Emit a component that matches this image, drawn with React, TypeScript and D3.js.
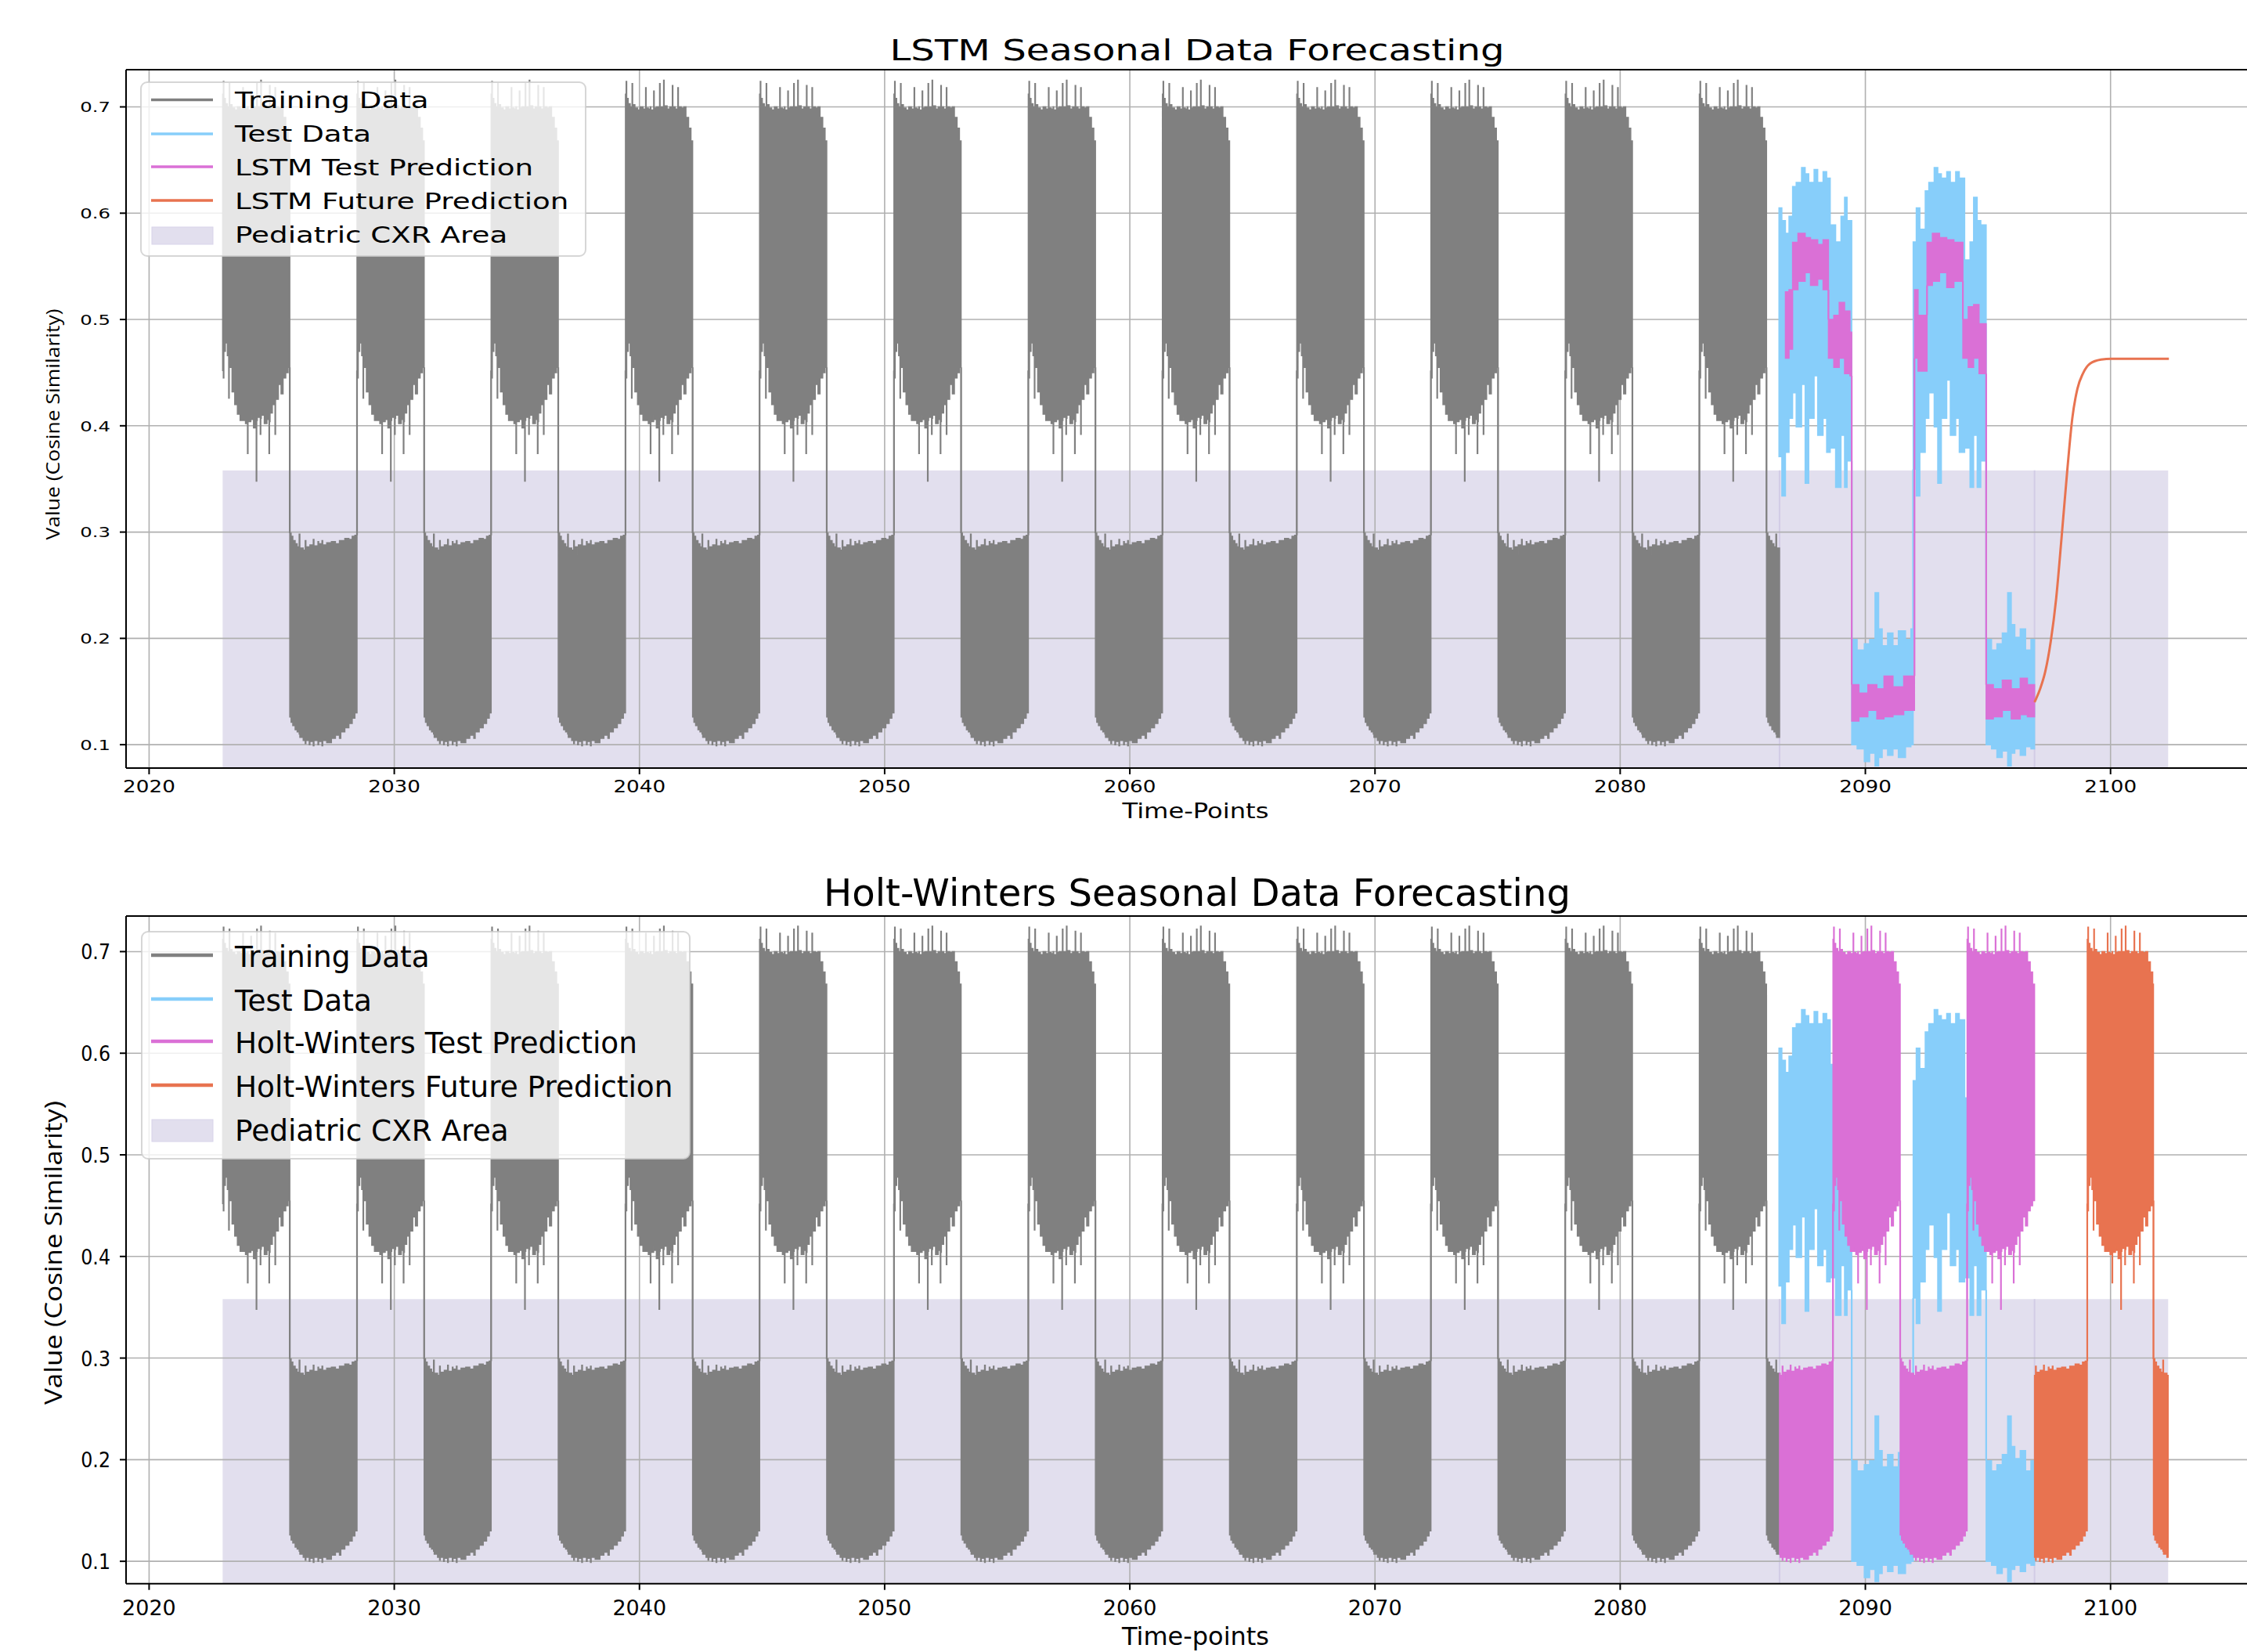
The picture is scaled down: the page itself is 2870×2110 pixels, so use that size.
import React from 'react';
import * as d3 from 'd3';

// ---------------- data ----------------
const X_TICKS = [2020, 2030, 2040, 2050, 2060, 2070, 2080, 2090, 2100];
const Y_TICKS = [0.1, 0.2, 0.3, 0.4, 0.5, 0.6, 0.7];
const X_LIMITS = [2019.06, 2106.3];
const Y_LIMITS = [0.078, 0.735];

// envelope of one "high" season of the training signal (fraction of block, upper, lower)
const HIGH_F = [0.0, 0.01, 0.018, 0.04, 0.07, 0.09, 0.098, 0.106, 0.14, 0.18, 0.22, 0.26, 0.3, 0.308, 0.34, 0.37, 0.378, 0.42, 0.428, 0.46, 0.5, 0.508, 0.516, 0.56, 0.568, 0.576, 0.62, 0.66, 0.69, 0.698, 0.706, 0.74, 0.78, 0.788, 0.83, 0.87, 0.9, 0.94, 0.975];
const HIGH_UP = [0.712, 0.724, 0.708, 0.703, 0.7, 0.7, 0.722, 0.702, 0.699, 0.697, 0.7, 0.698, 0.718, 0.699, 0.698, 0.7, 0.697, 0.715, 0.699, 0.7, 0.697, 0.722, 0.7, 0.699, 0.725, 0.701, 0.698, 0.7, 0.699, 0.72, 0.7, 0.698, 0.718, 0.7, 0.699, 0.7, 0.69, 0.68, 0.668];
const HIGH_LO = [0.452, 0.445, 0.47, 0.478, 0.466, 0.426, 0.46, 0.455, 0.432, 0.42, 0.411, 0.405, 0.408, 0.405, 0.402, 0.374, 0.404, 0.41, 0.406, 0.398, 0.348, 0.405, 0.408, 0.392, 0.407, 0.41, 0.402, 0.406, 0.374, 0.404, 0.412, 0.42, 0.392, 0.425, 0.439, 0.43, 0.445, 0.45, 0.455];
// envelope of one "low" season of the training signal
const LOW_F = [0.0, 0.02, 0.045, 0.08, 0.11, 0.14, 0.15, 0.2, 0.23, 0.24, 0.29, 0.3, 0.35, 0.36, 0.42, 0.43, 0.48, 0.49, 0.55, 0.62, 0.68, 0.74, 0.76, 0.82, 0.88, 0.93, 0.97];
const LOW_UP = [0.299, 0.296, 0.292, 0.289, 0.286, 0.298, 0.285, 0.283, 0.292, 0.286, 0.278, 0.288, 0.293, 0.287, 0.291, 0.289, 0.292, 0.288, 0.29, 0.291, 0.289, 0.292, 0.292, 0.294, 0.293, 0.296, 0.297];
const LOW_LO = [0.126, 0.121, 0.118, 0.114, 0.112, 0.11, 0.107, 0.104, 0.101, 0.104, 0.1, 0.103, 0.099, 0.104, 0.1, 0.103, 0.099, 0.104, 0.102, 0.106, 0.109, 0.106, 0.112, 0.116, 0.12, 0.125, 0.13];
const BLOCK_LEN = 2.738;
const TRAIN_CYCLE_STARTS = [2023.0, 2028.48, 2033.95, 2039.43, 2044.9, 2050.38, 2055.86, 2061.33, 2066.81, 2072.28, 2077.76, 2083.23];
const TRAIN_END = 2086.5;

// test data envelope
const TEST_T = [2086.477, 2086.594, 2086.74, 2086.886, 2087.032, 2087.178, 2087.398, 2087.544, 2087.69, 2087.909, 2088.056, 2088.275, 2088.421, 2088.567, 2088.787, 2089.006, 2089.152, 2089.254,
  2089.444, 2089.664, 2089.956, 2090.175, 2090.395, 2090.541, 2090.687, 2090.906, 2091.126, 2091.345, 2091.637, 2091.857,
  2091.95, 2092.076, 2092.222, 2092.442, 2092.588, 2092.807, 2092.953, 2093.099, 2093.319, 2093.465, 2093.684, 2093.83, 2094.05, 2094.269, 2094.415, 2094.561, 2094.708,
  2094.927, 2095.146, 2095.365, 2095.585, 2095.804, 2095.95, 2096.096, 2096.316, 2096.535, 2096.754];
const TEST_UP = [0.605, 0.593, 0.581, 0.597, 0.625, 0.629, 0.643, 0.637, 0.629, 0.641, 0.629, 0.639, 0.633, 0.589, 0.573, 0.597, 0.615, 0.593,
  0.199, 0.189, 0.195, 0.199, 0.243, 0.209, 0.193, 0.205, 0.193, 0.207, 0.199, 0.209,
  0.573, 0.605, 0.585, 0.621, 0.629, 0.643, 0.637, 0.633, 0.639, 0.629, 0.639, 0.633, 0.556, 0.573, 0.615, 0.593, 0.589,
  0.199, 0.189, 0.195, 0.205, 0.243, 0.213, 0.201, 0.209, 0.189, 0.199];
const TEST_LO = [0.371, 0.334, 0.375, 0.407, 0.431, 0.399, 0.439, 0.346, 0.407, 0.447, 0.391, 0.407, 0.375, 0.379, 0.342, 0.391, 0.342, 0.367,
  0.1, 0.096, 0.084, 0.092, 0.08, 0.088, 0.096, 0.09, 0.096, 0.088, 0.098, 0.1,
  0.359, 0.334, 0.375, 0.407, 0.431, 0.399, 0.346, 0.407, 0.443, 0.391, 0.407, 0.375, 0.379, 0.342, 0.391, 0.342, 0.367,
  0.1, 0.096, 0.088, 0.094, 0.08, 0.092, 0.096, 0.09, 0.098, 0.096];
const TEST_END = 2096.9;

// LSTM test prediction envelope
const LSTM_T = [2086.74, 2086.886, 2087.032, 2087.251, 2087.544, 2087.763, 2088.056, 2088.275, 2088.494, 2088.713, 2088.933, 2089.152, 2089.371,
  2089.444, 2089.737, 2090.102, 2090.468, 2090.76, 2091.126, 2091.564,
  2092.003, 2092.149, 2092.515, 2092.734, 2093.026, 2093.319, 2093.611, 2093.977, 2094.196, 2094.415, 2094.635,
  2094.927, 2095.219, 2095.585, 2095.95, 2096.316, 2096.608];
const LSTM_UP = [0.526, 0.528, 0.5725, 0.581, 0.577, 0.575, 0.5705, 0.575, 0.5, 0.504, 0.516, 0.508, 0.488,
  0.1565, 0.1485, 0.1565, 0.1525, 0.1646, 0.1545, 0.1646,
  0.528, 0.504, 0.5725, 0.581, 0.577, 0.575, 0.5725, 0.5, 0.512, 0.514, 0.496,
  0.1565, 0.1525, 0.1606, 0.1525, 0.1626, 0.1565];
const LSTM_LO = [0.4635, 0.472, 0.528, 0.536, 0.544, 0.532, 0.538, 0.528, 0.4635, 0.455, 0.4635, 0.449, 0.447,
  0.1222, 0.1262, 0.1323, 0.1242, 0.1262, 0.1283, 0.1323,
  0.4635, 0.4514, 0.532, 0.536, 0.544, 0.53, 0.536, 0.4635, 0.455, 0.4635, 0.449,
  0.1242, 0.1262, 0.1323, 0.1242, 0.1283, 0.1262];
const LSTM_END = 2096.9;

// LSTM future prediction
const LSTM_FUT_T = [2096.9, 2097.12, 2097.34, 2097.56, 2097.78, 2098.0, 2098.22, 2098.44, 2098.65, 2098.87, 2099.17, 2099.61, 2100.04, 2102.38];
const LSTM_FUT_V = [0.14, 0.152, 0.169, 0.197, 0.237, 0.294, 0.354, 0.407, 0.435, 0.449, 0.4586, 0.4623, 0.4631, 0.4631];

// Holt-Winters seasons (kind, start, end, phase into template)
const HW_TEST_KIND = ['low', 'high', 'low', 'high'];
const HW_TEST_START = [2086.5, 2088.68, 2091.42, 2094.15];
const HW_TEST_STOP = [2088.68, 2091.42, 2094.15, 2096.9];
const HW_TEST_PHASE = [0.19, 0, 0, 0];
const HW_FUT_KIND = ['low', 'high', 'low'];
const HW_FUT_START = [2096.9, 2099.05, 2101.75];
const HW_FUT_STOP = [2099.05, 2101.75, 2102.35];
const HW_FUT_PHASE = [0.215, 0, 0];

// Pediatric CXR area
const AREA_START = [2023.0, 2086.5, 2096.9];
const AREA_STOP = [2086.5, 2096.9, 2102.35];
const AREA_TOP = 0.358;

// ---------------- styles ----------------
const GREY = '#808080';
const BLUE = '#87CEFA';
const MAGENTA = '#DA70D6';
const ORANGE = '#E87350';
const AREA_COLOR = '#E2DFEE';
const GRID = '#b0b0b0';
const DEJAVU = "'DejaVu Sans', sans-serif";
const OPEN = "'Open Sans', 'DejaVu Sans', sans-serif";

type Step = { t: number; lo: number; hi: number };
type Series = { steps: Step[]; end: number };

function templateBlock(kind: string, start: number, end: number, phase: number): Step[] {
  const F = kind === 'high' ? HIGH_F : LOW_F;
  const U = kind === 'high' ? HIGH_UP : LOW_UP;
  const L = kind === 'high' ? HIGH_LO : LOW_LO;
  let first = 0;
  for (let i = 0; i < F.length; i++) if (F[i] <= phase) first = i;
  const out: Step[] = [];
  for (let i = first; i < F.length; i++) {
    const t = i === first ? start : start + (F[i] - phase) * BLOCK_LEN;
    if (t >= end) break;
    out.push({ t, lo: L[i], hi: U[i] });
  }
  return out;
}

function trainingSeries(): Series {
  const steps: Step[] = [];
  TRAIN_CYCLE_STARTS.forEach((s, k) => {
    const next = k + 1 < TRAIN_CYCLE_STARTS.length ? TRAIN_CYCLE_STARTS[k + 1] : TRAIN_END;
    const hiEnd = Math.min(s + BLOCK_LEN, TRAIN_END);
    steps.push(...templateBlock('high', s, hiEnd, 0));
    if (hiEnd < TRAIN_END) steps.push(...templateBlock('low', hiEnd, Math.min(next, TRAIN_END), 0));
  });
  return { steps, end: TRAIN_END };
}

function blocksSeries(kinds: string[], starts: number[], stops: number[], phases: number[]): Series {
  const steps: Step[] = [];
  kinds.forEach((k, i) => steps.push(...templateBlock(k, starts[i], stops[i], phases[i])));
  return { steps, end: stops[stops.length - 1] };
}

function arraySeries(T: number[], U: number[], L: number[], end: number): Series {
  return { steps: T.map((t, i) => ({ t, lo: L[i], hi: U[i] })), end };
}

function Band({ s, x, y, color }: { s: Series; x: any; y: any; color: string }) {
  const last = s.steps[s.steps.length - 1];
  const pts = [...s.steps, { t: s.end, lo: last.lo, hi: last.hi }];
  const area = d3.area<Step>().x(d => x(d.t)).y0(d => y(d.lo)).y1(d => y(d.hi)).curve(d3.curveStepAfter);
  const line = d3.line<[number, number]>().x(d => x(d[0])).y(d => y(d[1]));
  const conns: [number, number][][] = [];
  for (let i = 1; i < s.steps.length; i++) {
    const a = s.steps[i - 1], b = s.steps[i];
    if (b.lo > a.hi) conns.push([[b.t, a.hi], [b.t, b.lo]]);
    else if (b.hi < a.lo) conns.push([[b.t, a.lo], [b.t, b.hi]]);
  }
  return (
    <g>
      <path d={area(pts) || ''} fill={color} stroke={color} strokeWidth={1.5} />
      {conns.map((c, i) => <path key={i} d={line(c) || ''} stroke={color} strokeWidth={2.2} fill="none" />)}
    </g>
  );
}

function Txt(p: { x: number; y: number; sx?: number; anchor?: string; size: number; fam?: string; len?: number; rot?: number; children: any }) {
  const tr = `translate(${p.x},${p.y})` + (p.rot ? ` rotate(${p.rot})` : '') + (p.sx && p.sx !== 1 ? ` scale(${p.sx},1)` : '');
  return (
    <text transform={tr} textAnchor={p.anchor || 'start'} fontSize={p.size} fontFamily={p.fam || DEJAVU} fill="#000"
      textLength={p.len} lengthAdjust={p.len ? 'spacingAndGlyphs' : undefined}>{p.children}</text>
  );
}

type PanelCfg = {
  id: string; top: number; bottom: number;
  title: string; titleY: number; titleSize: number; titleLen: number;
  yTickSize: number; yTickSX: number; yTickDy: number;
  xTickSize: number; xTickSX: number; xTickY: number;
  xlabel: string; xlabelY: number; xlabelSize: number; xlabelLen: number;
  ylabelY: number; ylabelSize: number; ylabelLen: number; ylabelX: number;
  legend: { box: number[]; labels: string[]; lineY: number[]; textY: number[]; size: number; sx: number; lw: number; patch: number[] };
  isLSTM: boolean;
};

const LEFT = 161, RIGHT = 2893;

function Panel({ c }: { c: PanelCfg }) {
  const x = d3.scaleLinear().domain(X_LIMITS).range([LEFT, RIGHT]);
  const y = d3.scaleLinear().domain(Y_LIMITS).range([c.bottom, c.top]);
  const train = trainingSeries();
  const test = arraySeries(TEST_T, TEST_UP, TEST_LO, TEST_END);
  const fmt = d3.format('.1f');
  const futLine = d3.line<number>().x((_, i) => x(LSTM_FUT_T[i])).y(d => y(d)).curve(d3.curveMonotoneX);
  const colors = [GREY, BLUE, MAGENTA, ORANGE];
  const lg = c.legend;
  return (
    <g>
      <defs>
        <clipPath id={`clip-${c.id}`}>
          <rect x={LEFT} y={c.top} width={RIGHT - LEFT} height={c.bottom - c.top} />
        </clipPath>
      </defs>
      <g clipPath={`url(#clip-${c.id})`}>
        {AREA_START.map((s, i) => (
          <rect key={i} x={x(s)} width={x(AREA_STOP[i]) - x(s)} y={y(AREA_TOP)} height={c.bottom - y(AREA_TOP) + 5} fill={AREA_COLOR} />
        ))}
        {[AREA_START[1], AREA_START[2]].map((s, i) => (
          <line key={i} x1={x(s)} x2={x(s)} y1={y(AREA_TOP)} y2={c.bottom} stroke="#d2cce6" strokeWidth={2} />
        ))}
        {X_TICKS.map(t => <line key={t} x1={x(t)} x2={x(t)} y1={c.top} y2={c.bottom} stroke={GRID} strokeWidth={1.6} />)}
        {Y_TICKS.map(t => <line key={t} x1={LEFT} x2={RIGHT} y1={y(t)} y2={y(t)} stroke={GRID} strokeWidth={1.6} />)}
        <Band s={train} x={x} y={y} color={GREY} />
        <Band s={test} x={x} y={y} color={BLUE} />
        {c.isLSTM ? (
          <>
            <Band s={arraySeries(LSTM_T, LSTM_UP, LSTM_LO, LSTM_END)} x={x} y={y} color={MAGENTA} />
            <path d={futLine(LSTM_FUT_V) || ''} fill="none" stroke={ORANGE} strokeWidth={3} />
          </>
        ) : (
          <>
            <Band s={blocksSeries(HW_TEST_KIND, HW_TEST_START, HW_TEST_STOP, HW_TEST_PHASE)} x={x} y={y} color={MAGENTA} />
            <Band s={blocksSeries(HW_FUT_KIND, HW_FUT_START, HW_FUT_STOP, HW_FUT_PHASE)} x={x} y={y} color={ORANGE} />
          </>
        )}
      </g>
      {/* spines */}
      <line x1={LEFT} x2={RIGHT} y1={c.top} y2={c.top} stroke="#000" strokeWidth={2} />
      <line x1={LEFT} x2={RIGHT} y1={c.bottom} y2={c.bottom} stroke="#000" strokeWidth={2} />
      <line x1={LEFT} x2={LEFT} y1={c.top} y2={c.bottom} stroke="#000" strokeWidth={2} />
      {/* ticks */}
      {X_TICKS.map(t => (
        <g key={t}>
          <line x1={x(t)} x2={x(t)} y1={c.bottom} y2={c.bottom + 8} stroke="#000" strokeWidth={2} />
          <Txt x={x(t)} y={c.xTickY} anchor="middle" size={c.xTickSize} sx={c.xTickSX}>{String(t)}</Txt>
        </g>
      ))}
      {Y_TICKS.map(t => (
        <g key={t}>
          <line x1={LEFT - 8} x2={LEFT} y1={y(t)} y2={y(t)} stroke="#000" strokeWidth={2} />
          <Txt x={141} y={y(t) + c.yTickDy} anchor="end" size={c.yTickSize} sx={c.yTickSX}>{fmt(t)}</Txt>
        </g>
      ))}
      {/* labels */}
      <Txt x={1529} y={c.titleY} anchor="middle" size={c.titleSize} len={c.titleLen}>{c.title}</Txt>
      <Txt x={1527} y={c.xlabelY} anchor="middle" size={c.xlabelSize} len={c.xlabelLen}>{c.xlabel}</Txt>
      <Txt x={c.ylabelX} y={c.ylabelY} anchor="middle" size={c.ylabelSize} len={c.ylabelLen} rot={-90} fam={OPEN}>Value (Cosine Similarity)</Txt>
      {/* legend */}
      <rect x={lg.box[0]} y={lg.box[1]} width={lg.box[2]} height={lg.box[3]} rx={8} fill="#fff" fillOpacity={0.8} stroke="#cccccc" strokeOpacity={0.8} strokeWidth={2} />
      {lg.lineY.map((ly, i) => (
        <line key={i} x1={193} x2={272} y1={ly} y2={ly} stroke={colors[i]} strokeWidth={lg.lw} />
      ))}
      <rect x={194} y={lg.patch[0]} width={78} height={lg.patch[1]} fill={AREA_COLOR} stroke="#d8d3ea" strokeWidth={1} />
      {lg.labels.map((l, i) => (
        <Txt key={i} x={300} y={lg.textY[i]} size={lg.size} sx={lg.sx}>{l}</Txt>
      ))}
    </g>
  );
}

const TOP_CFG: PanelCfg = {
  id: 'lstm', top: 89, bottom: 981,
  title: 'LSTM Seasonal Data Forecasting', titleY: 77, titleSize: 36.6, titleLen: 785,
  yTickSize: 18.5, yTickSX: 1.32, yTickDy: 6.7,
  xTickSize: 20.5, xTickSX: 1.28, xTickY: 1012,
  xlabel: 'Time-Points', xlabelY: 1045, xlabelSize: 26, xlabelLen: 187,
  ylabelX: 76, ylabelY: 542, ylabelSize: 24, ylabelLen: 295,
  legend: {
    box: [180, 105, 568, 222],
    labels: ['Training Data', 'Test Data', 'LSTM Test Prediction', 'LSTM Future Prediction', 'Pediatric CXR Area'],
    lineY: [127.5, 171, 213, 256], textY: [138, 181, 224, 266.5, 309.5], size: 28, sx: 1.33, lw: 3.5, patch: [290, 22],
  },
  isLSTM: true,
};

const BOTTOM_CFG: PanelCfg = {
  id: 'hw', top: 1170, bottom: 2022.7,
  title: 'Holt-Winters Seasonal Data Forecasting', titleY: 1157, titleSize: 48, titleLen: 954,
  yTickSize: 27, yTickSX: 0.88, yTickDy: 10,
  xTickSize: 27, xTickSX: 1, xTickY: 2063,
  xlabel: 'Time-points', xlabelY: 2101, xlabelSize: 32, xlabelLen: 188,
  ylabelX: 79, ylabelY: 1600, ylabelSize: 31, ylabelLen: 388,
  legend: {
    box: [181, 1190, 700, 290],
    labels: ['Training Data', 'Test Data', 'Holt-Winters Test Prediction', 'Holt-Winters Future Prediction', 'Pediatric CXR Area'],
    lineY: [1220, 1276, 1330, 1386], textY: [1235, 1291, 1345, 1401, 1457], size: 37.4, sx: 1, lw: 4.5, patch: [1430, 28],
  },
  isLSTM: false,
};

export default function App() {
  return (
    <svg width={2870} height={2110} viewBox="0 0 2870 2110"
      style={{ position: 'absolute', left: 0, top: 0, display: 'block', background: '#fff' }}>
      <rect x={0} y={0} width={2870} height={2110} fill="#fff" />
      <Panel c={TOP_CFG} />
      <Panel c={BOTTOM_CFG} />
    </svg>
  );
}
